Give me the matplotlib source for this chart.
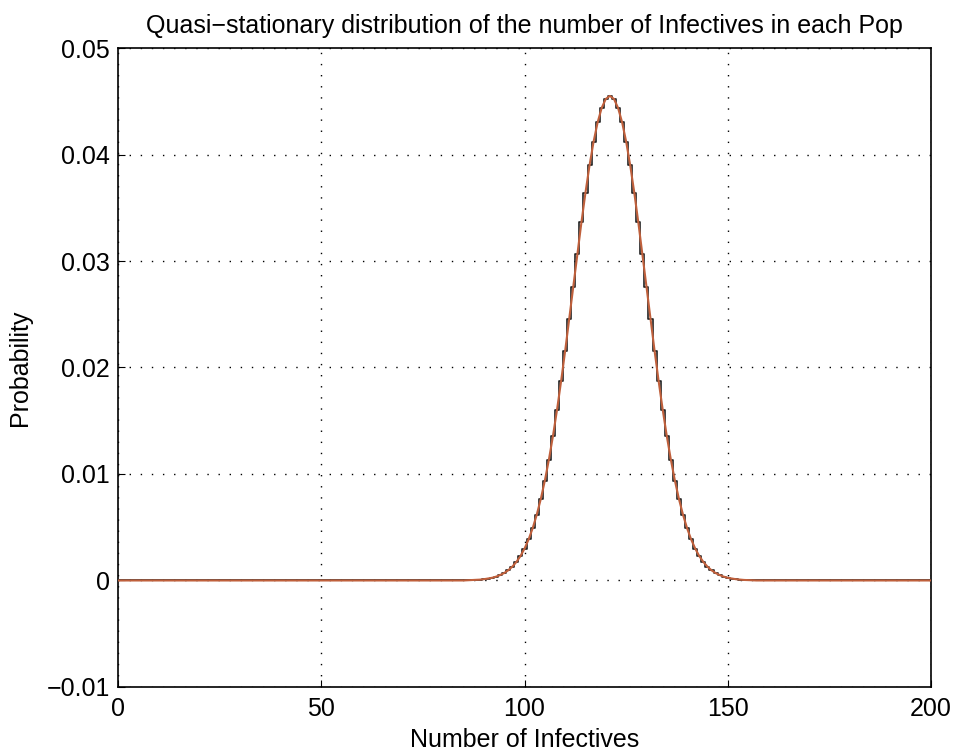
import numpy as np
import matplotlib
matplotlib.use("Agg")
import matplotlib.pyplot as plt

plt.rcParams['font.family'] = ['Liberation Sans', 'DejaVu Sans']

# number of infectives with nonzero probability
infectives = list(range(86, 157))
probability = [
    0.00002, 0.00004, 0.00005, 0.00008, 0.00012, 0.00018, 0.00025, 0.00036,
    0.00051, 0.00070, 0.00096, 0.00130, 0.00174, 0.00229, 0.00299, 0.00385,
    0.00490, 0.00616, 0.00764, 0.00937, 0.01135, 0.01357, 0.01603, 0.01871,
    0.02156, 0.02454, 0.02760, 0.03065, 0.03362, 0.03643, 0.03899, 0.04122,
    0.04304, 0.04439, 0.04522, 0.04550, 0.04522, 0.04439, 0.04304, 0.04122,
    0.03899, 0.03643, 0.03362, 0.03065, 0.02760, 0.02454, 0.02156, 0.01871,
    0.01603, 0.01357, 0.01135, 0.00937, 0.00764, 0.00616, 0.00490, 0.00385,
    0.00299, 0.00229, 0.00174, 0.00130, 0.00096, 0.00070, 0.00051, 0.00036,
    0.00025, 0.00018, 0.00012, 0.00008, 0.00005, 0.00004, 0.00002,
]
x_min, x_max = 0, 200
x_ticks = [0, 50, 100, 150, 200]
y_ticks = [-0.01, 0, 0.01, 0.02, 0.03, 0.04, 0.05]
y_tick_labels = ["\u22120.01", "0", "0.01", "0.02", "0.03", "0.04", "0.05"]

# full support 0..200, zero outside the read range
k_all = np.arange(x_min, x_max + 1)
p_all = np.zeros(len(k_all))
p_all[np.array(infectives) - x_min] = probability

fig = plt.figure(figsize=(9.54, 7.55), dpi=100)
ax = fig.add_axes([0.1237, 0.0901, 0.8522, 0.8463])

ax.step(k_all, p_all, where="mid", color="#222222", lw=1.2, zorder=3)
ax.plot(k_all, p_all, color="#c0603c", lw=1.5, zorder=4)

ax.set_xlim(x_min, x_max)
ax.set_ylim(-0.01, 0.05)
ax.set_xticks(x_ticks)
ax.set_yticks(y_ticks)
ax.set_yticklabels(y_tick_labels)
ax.tick_params(direction="in", length=5, labelsize=18, pad=6)
ax.tick_params(axis="x", pad=7)
ax.grid(True, color="black", linestyle=(0, (1, 7)), lw=1.0)
for s in ax.spines.values():
    s.set_linewidth(1.2)

ax.set_title("Quasi\u2212stationary distribution of the number of Infectives in each Pop",
             fontsize=18, pad=11)
ax.set_xlabel("Number of Infectives", fontsize=18, labelpad=5)
ax.set_ylabel("Probability", fontsize=18, labelpad=10)

fig.savefig("out.png", dpi=100)
